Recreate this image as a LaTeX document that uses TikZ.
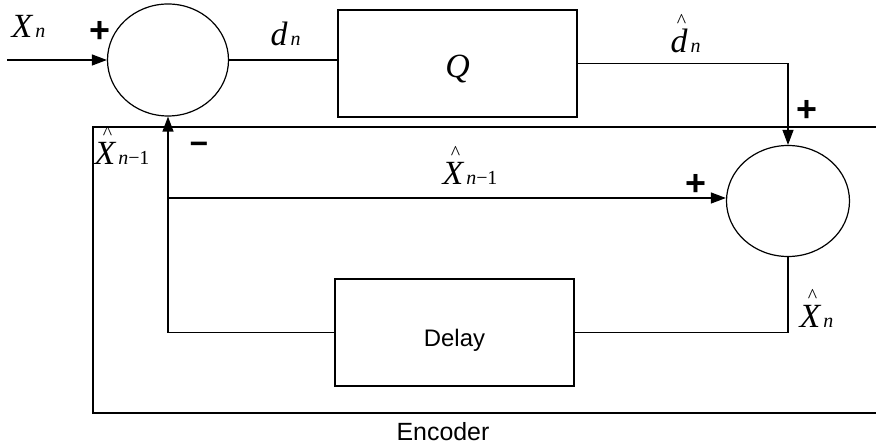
\documentclass[tikz,border=0pt]{standalone}
\usepackage{fontspec}
\setmainfont{Liberation Serif}
\setsansfont{Liberation Sans}
\usetikzlibrary{shapes.geometric,arrows.meta}

% a small circumflex set well above a letter
\newcommand{\hatted}[1]{\ooalign{#1\cr\hidewidth\kern0.15em\raisebox{0.74em}{\fontsize{20}{20}\selectfont\^{}}\hidewidth\cr}}
% subscript set small, on the baseline
\newcommand{\subs}[1]{\kern3bp{\fontsize{20}{20}\selectfont #1}}

\begin{document}
\begin{tikzpicture}[x=1bp,y=-1bp,line width=1.2bp,
  >={Triangle[length=15bp,width=11bp]},
  sumnode/.style={draw,ellipse,inner sep=0pt},
  blk/.style={draw,rectangle,inner sep=0pt,minimum width=239bp,minimum height=107bp},
  lbl/.style={inner sep=0pt,anchor=base west,font=\fontsize{34}{34}\selectfont},
  sign/.style={inner sep=0pt,font=\sffamily\bfseries\fontsize{36}{36}\selectfont},
  frametext/.style={inner sep=0pt,font=\sffamily\fontsize{25}{25}\selectfont}]
\useasboundingbox (0,0) rectangle (876,447);

% blocks
\node[blk,font=\fontsize{34}{34}\selectfont\itshape] (q) at (457.5,63.5) {\raisebox{-14.5bp}[0pt][0pt]{Q}};
\node[sumnode,minimum width=121bp,minimum height=112bp] (s1) at (168,60) {};
\node[sumnode,minimum width=123bp,minimum height=111bp] (s2) at (788,201) {};
\node[blk,font=\sffamily\fontsize{24}{24}\selectfont] (delay) at (454.5,332.5) {\raisebox{-14.5bp}[0pt][0pt]{Delay}};

% encoder frame, open to the right
\coordinate (fTL) at (93,127);
\coordinate (fTR) at (876,127);
\coordinate (fBL) at (93,413);
\coordinate (fBR) at (876,413);
\draw (fTR) -- (fTL) -- (fBL) -- (fBR);
\node[frametext] (enc) at (443,432) {Encoder};

% signal paths
\coordinate (in) at (7,60);
\coordinate (tap) at (168,198);
\draw[->] (in) -- (s1.west);
\draw (s1.east) -- (s1.east -| q.west);
\draw[->] (q.east) -| (s2.north);
\draw (s2.south) |- (delay.east);
\draw[->] (delay.west) -| (s1.south);
\draw[->] (tap) -- (tap -| s2.west);

% signal labels
\node[lbl] (lxn) at (11,38) {\itshape X\subs{n}};
\node[lbl] (ldn) at (270,46) {\itshape d\subs{n}};
\node[lbl] (ldq) at (670,53) {\hatted{\itshape d}\subs{\itshape n}};
\node[lbl] (lxa) at (94,165) {\hatted{\itshape X}\subs{{\itshape n}−1}};
\node[lbl] (lxb) at (442,185) {\hatted{\itshape X}\subs{{\itshape n}−1}};
\node[lbl] (lxq) at (799,328) {\hatted{\itshape X}\subs{\itshape n}};

% signs at the summing junctions
\node[sign] (p1) at (100,32) {+};
\node[sign] (p2) at (807,111) {+};
\node[sign] (p3) at (696,185) {+};
\node[sign,font=\sffamily\bfseries\fontsize{32}{32}\selectfont] (m1) at (199,148) {−};
\end{tikzpicture}
\end{document}
